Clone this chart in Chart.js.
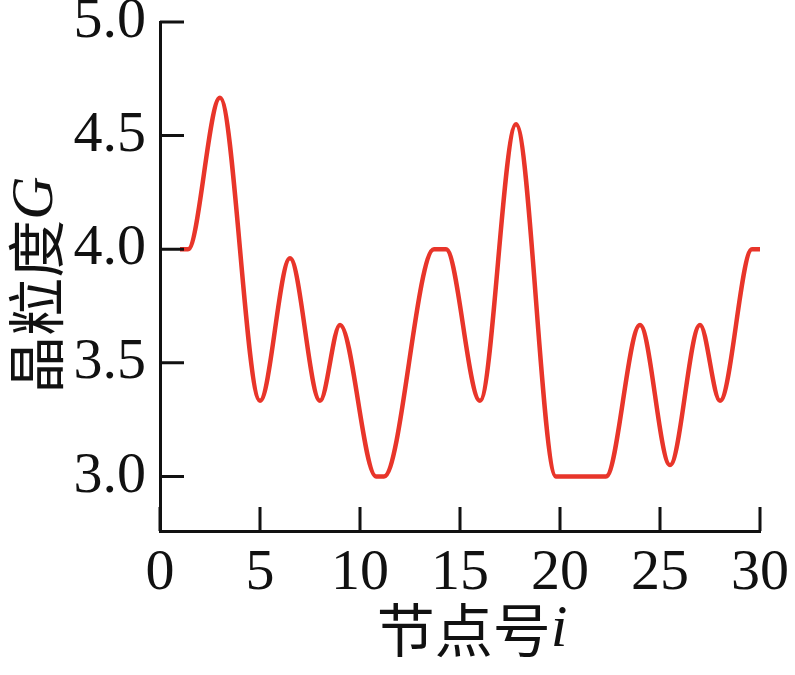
<!DOCTYPE html>
<html>
<head>
<meta charset="utf-8">
<script src="https://cdn.jsdelivr.net/npm/chart.js@4.4.1/dist/chart.umd.min.js"></script>
<style>
  html, body { margin: 0; padding: 0; background: #fff; }
  #wrap { width: 795px; height: 675px; }
</style>
</head>
<body>
<div id="wrap"><canvas id="grain-chart" width="795" height="675"></canvas></div>
<script>
// 节点号 i 与 晶粒度 G（从原图读取的关键点）
const nodeIdx = [1, 1.4, 3, 5, 6.5, 8, 9, 10.8, 11.2, 13.7, 14.3, 16, 17.8, 19.8, 22.3, 24, 25.5, 27, 28, 29.6, 30];
const grainG  = [4.0, 4.0, 4.667, 3.333, 3.96, 3.333, 3.667, 3.0, 3.0, 4.0, 4.0, 3.333, 4.55, 3.0, 3.0, 3.667, 3.05, 3.667, 3.333, 4.0, 4.0];
const xTicks = [0, 5, 10, 15, 20, 25, 30];
const yTicks = [3.0, 3.5, 4.0, 4.5, 5.0];

const AXIS_COLOR = '#111';
const tickFont = { family: '"Liberation Serif", "Times New Roman", serif', size: 58 };

// 向内的刻度线
const innerTicks = {
    id: 'innerTicks',
    afterDraw(chart) {
        const { ctx, chartArea, scales } = chart;
        ctx.save();
        ctx.strokeStyle = AXIS_COLOR;
        ctx.lineWidth = 3;
        ctx.beginPath();
        yTicks.forEach(v => {
            const y = scales.y.getPixelForValue(v);
            ctx.moveTo(chartArea.left, y);
            ctx.lineTo(chartArea.left + 24, y);
        });
        xTicks.forEach(v => {
            const x = scales.x.getPixelForValue(v);
            ctx.moveTo(x, chartArea.bottom);
            ctx.lineTo(x, chartArea.bottom - 24);
        });
        ctx.stroke();
        ctx.restore();
    }
};

// 坐标轴标题（中文 + 斜体变量）
function drawMixed(ctx, parts, cx, cy) {
    let total = 0;
    parts.forEach(p => { ctx.font = p.font; p.w = ctx.measureText(p.text).width; total += p.w; });
    let x = cx - total / 2;
    ctx.textBaseline = 'middle';
    ctx.textAlign = 'left';
    parts.forEach(p => { ctx.font = p.font; ctx.fillText(p.text, x, cy); x += p.w; });
}

const axisTitles = {
    id: 'axisTitles',
    afterDraw(chart) {
        const ctx = chart.ctx;
        const cjk = '58px "Noto Sans CJK SC", sans-serif';
        const ital = 'italic 60px "Liberation Serif", serif';
        ctx.save();
        ctx.fillStyle = AXIS_COLOR;
        drawMixed(ctx, [{ text: '节点号', font: cjk }, { text: 'i', font: ital }], 472, 630);
        ctx.translate(36, 285);
        ctx.rotate(-Math.PI / 2);
        drawMixed(ctx, [{ text: '晶粒度', font: cjk }, { text: 'G', font: ital }], 0, 0);
        ctx.restore();
    }
};

new Chart(document.getElementById('grain-chart'), {
    type: 'line',
    data: {
        datasets: [{
            data: nodeIdx.map((x, i) => ({ x: x, y: grainG[i] })),
            borderColor: '#e8352a',
            borderWidth: 4.5,
            pointRadius: 0,
            cubicInterpolationMode: 'monotone',
            fill: false
        }]
    },
    options: {
        responsive: false,
        animation: false,
        layout: { padding: { top: 22, right: 35, left: 0, bottom: 0 } },
        plugins: { legend: { display: false }, tooltip: { enabled: false } },
        scales: {
            x: {
                type: 'linear',
                min: 0,
                max: 30,
                afterBuildTicks: s => { s.ticks = xTicks.map(v => ({ value: v })); },
                afterFit: s => { s.height = 144; s.paddingLeft = 0; s.paddingRight = 0; },
                grid: { display: false },
                border: { display: true, color: AXIS_COLOR, width: 3 },
                ticks: { color: AXIS_COLOR, font: tickFont, padding: 0, maxRotation: 0, autoSkip: false }
            },
            y: {
                min: 2.76,
                max: 5.0,
                afterBuildTicks: s => { s.ticks = yTicks.map(v => ({ value: v })); },
                afterFit: s => { s.width = 160; s.paddingTop = 0; s.paddingBottom = 0; },
                grid: { display: false },
                border: { display: true, color: AXIS_COLOR, width: 3 },
                ticks: { color: AXIS_COLOR, font: tickFont, padding: 6, callback: v => v.toFixed(1) }
            }
        }
    },
    plugins: [innerTicks, axisTitles]
});
</script>
</body>
</html>
